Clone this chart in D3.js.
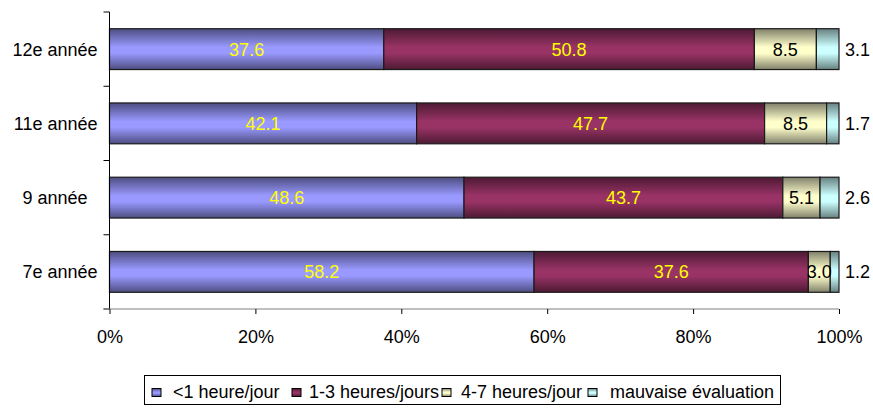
<!DOCTYPE html>
<html>
<head>
<meta charset="utf-8">
<script src="https://cdn.jsdelivr.net/npm/d3@7"></script>
<style>
  body { margin: 0; background: #fff; }
  text { font-family: "Liberation Sans", Arial, sans-serif; }
</style>
</head>
<body>
<div id="chart"></div>
<script>
// categories, top to bottom
var grades = ["12e année", "11e année", "9 année  ", "7e année"];
var seriesNames = ["<1 heure/jour", "1-3 heures/jours", "4-7 heures/jour", "mauvaise évaluation"];

// values per grade, in percent
var lessThan1 = [37.6, 42.1, 48.6, 58.2];
var oneToThree = [50.8, 47.7, 43.7, 37.6];
var fourToSeven = [8.5, 8.5, 5.1, 3.0];
var badEval = [3.1, 1.7, 2.6, 1.2];

var xTicks = [0, 20, 40, 60, 80, 100];

var seriesValues = [lessThan1, oneToThree, fourToSeven, badEval];
var light = ["#9999ff", "#993366", "#ffffcc", "#ccffff"];
var dark = ["#4d4d80", "#4d1a33", "#80806a", "#668080"];
var labelColor = ["#ffff00", "#ffff00", "#000", "#000"];

var w = 873, h = 408;
var margin = {left: 109.5, right: 34, top: 12, bottom: 99};
var fs = "18px";

var svg = d3.select("#chart")
  .append("svg")
  .attr("width", w)
  .attr("height", h);

// vertical gradients, dark edges and light middle
var defs = svg.append("defs");
light.forEach(function(c, i) {
  var g = defs.append("linearGradient")
    .attr("id", "grad" + i)
    .attr("x1", "0%").attr("y1", "0%")
    .attr("x2", "0%").attr("y2", "100%");
  g.append("stop").attr("offset", "0%").attr("stop-color", dark[i]);
  g.append("stop").attr("offset", "45%").attr("stop-color", c);
  g.append("stop").attr("offset", "60%").attr("stop-color", c);
  g.append("stop").attr("offset", "100%").attr("stop-color", dark[i]);
});

var x = d3.scaleLinear()
  .domain([0, 100])
  .range([margin.left, w - margin.right]);

var y = d3.scaleBand()
  .domain(grades)
  .range([margin.top, h - margin.bottom])
  .paddingInner(0.45)
  .paddingOuter(0.225);

// build stacked rows
var rows = grades.map(function(g, r) {
  var row = {grade: g};
  seriesNames.forEach(function(s, i) { row[s] = seriesValues[i][r]; });
  return row;
});
var stacked = d3.stack().keys(seriesNames)(rows);

var layers = svg.selectAll("g.layer")
  .data(stacked)
  .enter()
  .append("g")
  .attr("class", "layer")
  .attr("fill", function(d, i) { return "url(#grad" + i + ")"; });

layers.selectAll("rect")
  .data(function(d) { return d; })
  .enter()
  .append("rect")
  .attr("x", function(d) { return x(d[0]); })
  .attr("width", function(d) { return x(d[1]) - x(d[0]); })
  .attr("y", function(d) { return y(d.data.grade); })
  .attr("height", y.bandwidth())
  .attr("stroke", "#1a1a1a")
  .attr("stroke-width", 1.2);

// value labels
stacked.forEach(function(layer, i) {
  svg.append("g")
    .selectAll("text")
    .data(layer)
    .enter()
    .append("text")
    .attr("x", function(d) {
      return i == 3 ? x(100) + 6 : (x(d[0]) + x(d[1])) / 2;
    })
    .attr("y", function(d) { return y(d.data.grade) + y.bandwidth() / 2; })
    .attr("dy", "0.36em")
    .attr("text-anchor", i == 3 ? "start" : "middle")
    .attr("fill", labelColor[i])
    .style("font-size", fs)
    .text(function(d) { return (d[1] - d[0]).toFixed(1); });
});

// y axis
var yAxis = svg.append("g")
  .attr("transform", "translate(" + margin.left + ",0)");
yAxis.append("line")
  .attr("y1", margin.top).attr("y2", h - margin.bottom)
  .attr("stroke", "#000");
var bounds = grades.map(function(g) { return y(g) - y.step() * y.paddingOuter(); });
bounds.push(h - margin.bottom);
yAxis.selectAll("line.tk")
  .data(bounds)
  .enter()
  .append("line")
  .attr("class", "tk")
  .attr("x1", -6).attr("x2", 0)
  .attr("y1", function(d) { return d; }).attr("y2", function(d) { return d; })
  .attr("stroke", "#000");
yAxis.selectAll("text")
  .data(grades)
  .enter()
  .append("text")
  .attr("x", -12)
  .attr("y", function(d) { return y(d) + y.bandwidth() / 2; })
  .attr("dy", "0.36em")
  .attr("text-anchor", "end")
  .style("white-space", "pre")
  .style("font-size", fs)
  .text(function(d) { return d; });

// x axis
var xAxis = d3.axisBottom(x)
  .tickValues(xTicks)
  .tickFormat(function(d) { return d + "%"; })
  .tickSize(5)
  .tickSizeOuter(0)
  .tickPadding(16);

var xg = svg.append("g")
  .attr("transform", "translate(0," + (h - margin.bottom) + ")")
  .call(xAxis);
xg.select(".domain")
  .attr("stroke", "#808080")
  .attr("d", "M" + (margin.left - 6) + ",0H" + x(100));
xg.selectAll(".tick line").attr("stroke", "#000");
xg.selectAll(".tick text")
  .attr("fill", "#000")
  .style("font-size", fs)
  .style("font-family", "'Liberation Sans', Arial, sans-serif");

// legend
var legend = svg.append("g");
legend.append("rect")
  .attr("x", 144.5).attr("y", 375.5)
  .attr("width", 636).attr("height", 29)
  .attr("fill", "#fff")
  .attr("stroke", "#000");

var legendX = [152, 292, 442, 588];
var legendTextX = [173, 309, 461, 610];
seriesNames.forEach(function(s, i) {
  legend.append("rect")
    .attr("x", legendX[i]).attr("y", 388.5)
    .attr("width", 9).attr("height", 8)
    .attr("fill", "url(#grad" + i + ")")
    .attr("stroke", "#000");
  legend.append("text")
    .attr("x", legendTextX[i])
    .attr("y", 392)
    .attr("dy", "0.36em")
    .style("font-size", fs)
    .text(s);
});
</script>
</body>
</html>
